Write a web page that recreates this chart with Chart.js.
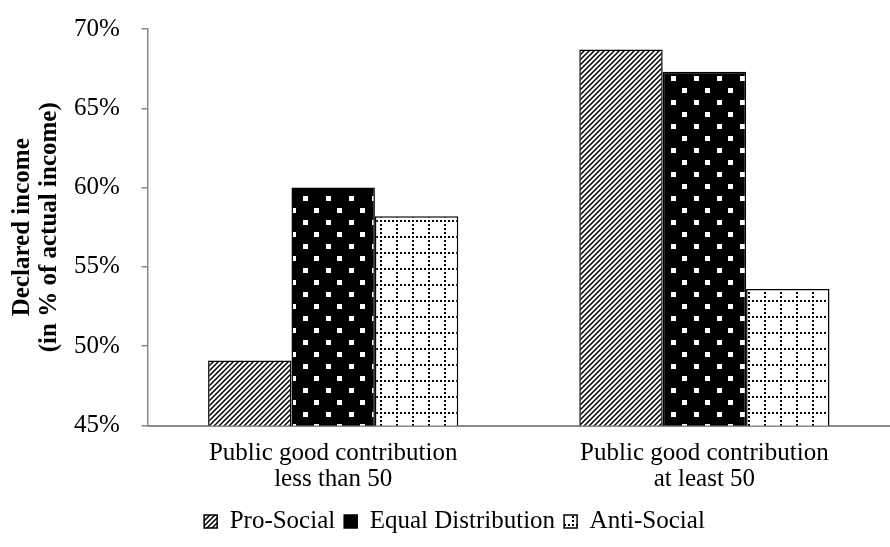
<!DOCTYPE html>
<html>
<head>
<meta charset="utf-8">
<script src="https://cdn.jsdelivr.net/npm/chart.js@4/dist/chart.umd.min.js"></script>
<style>
    html, body { margin: 0; padding: 0; background: #fff; }
    #wrap { width: 890px; height: 547px; }
</style>
</head>
<body>
<div id="wrap"><canvas id="declaredChart" width="890" height="547"></canvas></div>
<script>
// Data
const categories = [
    ['Public good contribution', 'less than 50'],
    ['Public good contribution', 'at least 50']
];
const seriesNames = ['Pro-Social', 'Equal Distribution', 'Anti-Social'];
const proSocial = [49.1, 68.7];
const equalDistribution = [60.0, 67.3];
const antiSocial = [58.2, 53.6];

// Fill patterns
function makeTile(w, h, draw) {
    const c = document.createElement('canvas');
    c.width = w;
    c.height = h;
    const ctx = c.getContext('2d');
    draw(ctx);
    return document.getElementById('declaredChart').getContext('2d').createPattern(c, 'repeat');
}

const hatchPattern = makeTile(5, 5, ctx => {
    ctx.fillStyle = '#fff';
    ctx.fillRect(0, 0, 5, 5);
    ctx.strokeStyle = '#000';
    ctx.lineWidth = 1.5;
    ctx.beginPath();
    ctx.moveTo(-1, 6); ctx.lineTo(6, -1);
    ctx.moveTo(-3, 3); ctx.lineTo(3, -3);
    ctx.moveTo(2, 8); ctx.lineTo(8, 2);
    ctx.stroke();
});

const dotsPattern = makeTile(23, 24, ctx => {
    ctx.fillStyle = '#000';
    ctx.fillRect(0, 0, 23, 24);
    ctx.fillStyle = '#fff';
    ctx.fillRect(4, 4, 5, 5);
    ctx.fillRect(15, 16, 5, 5);
});

const gridPattern = makeTile(16, 16, ctx => {
    ctx.fillStyle = '#fff';
    ctx.fillRect(0, 0, 16, 16);
    ctx.fillStyle = '#000';
    for (let i = 0; i < 16; i += 4) {
        ctx.fillRect(i, 12, 2, 2);
        ctx.fillRect(12, i, 2, 2);
    }
});

const bgPlugin = {
    id: 'whiteBg',
    beforeDraw(chart) {
        const ctx = chart.ctx;
        ctx.save();
        ctx.fillStyle = '#fff';
        ctx.fillRect(0, 0, chart.width, chart.height);
        ctx.restore();
    }
};

const serif = 'Liberation Serif, "Times New Roman", serif';

new Chart(document.getElementById('declaredChart'), {
    type: 'bar',
    data: {
        labels: categories,
        datasets: [
            { label: seriesNames[0], data: proSocial, backgroundColor: hatchPattern },
            { label: seriesNames[1], data: equalDistribution, backgroundColor: dotsPattern },
            { label: seriesNames[2], data: antiSocial, backgroundColor: gridPattern }
        ].map(d => Object.assign(d, {
            borderColor: '#000',
            borderWidth: 1.5,
            borderSkipped: 'bottom',
            categoryPercentage: 0.674,
            barPercentage: 1.0
        }))
    },
    options: {
        responsive: false,
        animation: false,
        // plot runs slightly past the right edge, as in the original
        layout: { autoPadding: false, padding: { left: 9, right: -10, top: 29, bottom: 3 } },
        plugins: {
            legend: {
                position: 'bottom',
                labels: {
                    color: '#000',
                    font: { family: serif, size: 25 },
                    boxWidth: 13,
                    boxHeight: 13,
                    padding: 9
                }
            },
            tooltip: { enabled: false }
        },
        scales: {
            x: {
                grid: { display: false },
                border: { color: '#898989', width: 2 },
                ticks: {
                    color: '#000',
                    font: { family: serif, size: 25, lineHeight: 1.05 },
                    padding: 7
                }
            },
            y: {
                min: 45,
                max: 70,
                grid: {
                    drawOnChartArea: false,
                    drawTicks: true,
                    tickLength: 6,
                    color: '#898989',
                    lineWidth: 1.5
                },
                border: { color: '#898989', width: 1.5 },
                ticks: {
                    stepSize: 5,
                    color: '#000',
                    font: { family: serif, size: 25 },
                    padding: 3,
                    // trailing spaces keep the labels clear of the axis
                    callback: v => v + '%   '
                },
                title: {
                    display: true,
                    text: ['Declared income', '(in % of actual income)'],
                    color: '#000',
                    font: { family: serif, size: 25, weight: 'bold', lineHeight: 1.08 },
                    padding: { top: 0, bottom: 8 }
                }
            }
        }
    },
    plugins: [bgPlugin]
});
</script>
</body>
</html>
